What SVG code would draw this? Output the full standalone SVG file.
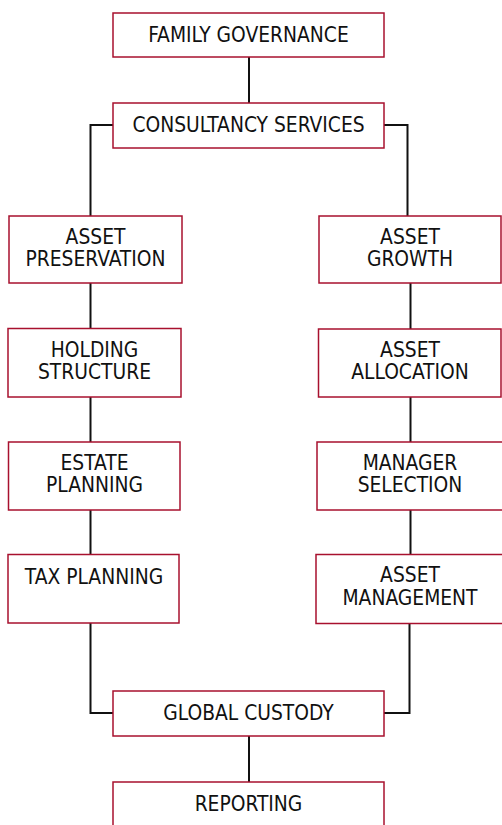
<svg xmlns="http://www.w3.org/2000/svg" width="502" height="825" viewBox="0 0 502 825">
  <style>
    .box { fill: #ffffff; stroke: #a8102e; stroke-width: 1.5; }
    .lbl { font-family: 'DejaVu Sans Condensed', 'DejaVu Sans', sans-serif; font-stretch: condensed; font-size: 20.8px; fill: #111111; text-anchor: middle; }
    .wire { fill: none; stroke: #111111; stroke-width: 2; }
  </style>
  <rect width="502" height="825" fill="#ffffff"/>

  <!-- connectors -->
  <g id="connectors">
    <path class="wire" d="M249,57 V103"/>
    <path class="wire" d="M113,125 H90.5 V216"/>
    <path class="wire" d="M384,125 H407.5 V216"/>
    <path class="wire" d="M90.5,283 V328"/>
    <path class="wire" d="M90.5,397 V442"/>
    <path class="wire" d="M90.5,510 V554"/>
    <path class="wire" d="M90.5,623 V713 H113"/>
    <path class="wire" d="M410.5,283 V329"/>
    <path class="wire" d="M410.5,397 V442"/>
    <path class="wire" d="M410.5,510 V554"/>
    <path class="wire" d="M409.5,623 V713 H384"/>
    <path class="wire" d="M249,736 V782"/>
  </g>

  <g id="family-governance">
    <rect class="box" x="113" y="13" width="271" height="44"/>
    <text class="lbl" x="248.5" y="42">FAMILY GOVERNANCE</text>
  </g>
  <g id="consultancy-services">
    <rect class="box" x="113" y="103" width="271" height="45"/>
    <text class="lbl" x="248.5" y="132">CONSULTANCY SERVICES</text>
  </g>

  <g id="asset-preservation">
    <rect class="box" x="9" y="216" width="173" height="67"/>
    <text class="lbl" x="95.5" y="244">ASSET</text>
    <text class="lbl" x="95.5" y="266">PRESERVATION</text>
  </g>
  <g id="holding-structure">
    <rect class="box" x="8" y="328.5" width="173" height="68.5"/>
    <text class="lbl" x="94.5" y="357">HOLDING</text>
    <text class="lbl" x="94.5" y="379">STRUCTURE</text>
  </g>
  <g id="estate-planning">
    <rect class="box" x="8.5" y="442" width="171.5" height="68"/>
    <text class="lbl" x="94.5" y="469.5">ESTATE</text>
    <text class="lbl" x="94.5" y="491.5">PLANNING</text>
  </g>
  <g id="tax-planning">
    <rect class="box" x="8" y="554.5" width="171" height="68.5"/>
    <text class="lbl" x="94" y="584">TAX PLANNING</text>
  </g>

  <g id="asset-growth">
    <rect class="box" x="319" y="216" width="182" height="67"/>
    <text class="lbl" x="410" y="243.5">ASSET</text>
    <text class="lbl" x="410" y="265.5">GROWTH</text>
  </g>
  <g id="asset-allocation">
    <rect class="box" x="318.5" y="329" width="182.5" height="68"/>
    <text class="lbl" x="410" y="357">ASSET</text>
    <text class="lbl" x="410" y="379">ALLOCATION</text>
  </g>
  <g id="manager-selection">
    <rect class="box" x="317" y="442" width="186" height="68"/>
    <text class="lbl" x="410" y="469.5">MANAGER</text>
    <text class="lbl" x="410" y="491.5">SELECTION</text>
  </g>
  <g id="asset-management">
    <rect class="box" x="316" y="554.5" width="188" height="69"/>
    <text class="lbl" x="410" y="582">ASSET</text>
    <text class="lbl" x="410" y="604.5">MANAGEMENT</text>
  </g>

  <g id="global-custody">
    <rect class="box" x="113" y="691" width="271" height="45"/>
    <text class="lbl" x="248.5" y="720">GLOBAL CUSTODY</text>
  </g>
  <g id="reporting">
    <rect class="box" x="113" y="782" width="271" height="50"/>
    <text class="lbl" x="248.5" y="811">REPORTING</text>
  </g>
</svg>
